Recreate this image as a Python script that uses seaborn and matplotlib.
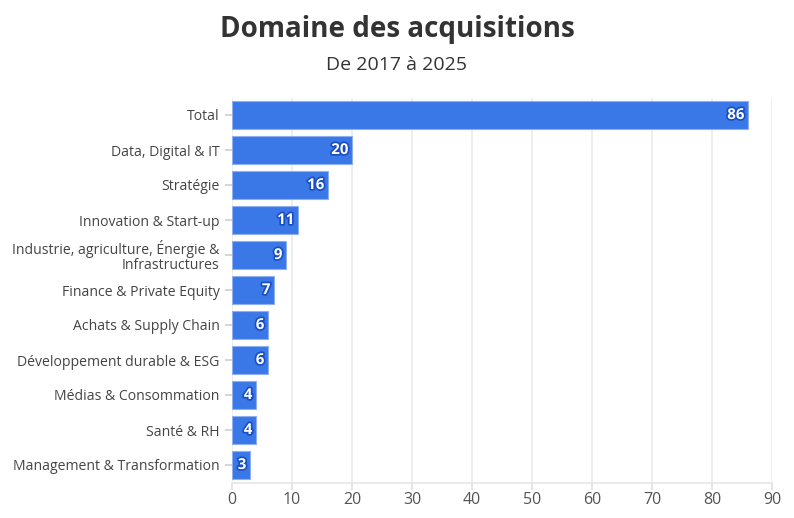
import matplotlib
matplotlib.use("Agg")
import matplotlib.pyplot as plt
import matplotlib.patheffects as pe
import seaborn as sns
import pandas as pd

categories = ["Total", "Data, Digital & IT", "Stratégie", "Innovation & Start-up",
              "Industrie, agriculture, Énergie &\nInfrastructures", "Finance & Private Equity",
              "Achats & Supply Chain", "Développement durable & ESG", "Médias & Consommation",
              "Santé & RH", "Management & Transformation"]
values = [86, 20, 16, 11, 9, 7, 6, 6, 4, 4, 3]
xticks = [0, 10, 20, 30, 40, 50, 60, 70, 80, 90]

df = pd.DataFrame({"cat": categories, "val": values})

sns.set_theme(style="white")
plt.rcParams['font.family'] = ['Open Sans', 'DejaVu Sans']

fig = plt.figure(figsize=(7.94, 5.18), dpi=100)
ax = fig.add_axes([232/794, 1-482.5/518, 540/794, 385/518])

sns.barplot(data=df, x="val", y="cat", color="#3b78e7", saturation=1, width=0.8,
            edgecolor="#8fb0f0", linewidth=0.8, ax=ax, zorder=3)

ax.set_xlim(0, 90)
ax.set_xticks(xticks)
ax.set_xlabel("")
ax.set_ylabel("")
ax.grid(axis="x", color="#ebebeb", linewidth=1.2, zorder=0)
ax.set_axisbelow(True)
for s in ["top", "right", "left"]:
    ax.spines[s].set_visible(False)
ax.spines["bottom"].set_color("#e6e6e6")
ax.spines["bottom"].set_linewidth(1.2)
ax.tick_params(axis="y", length=5, color="#d0d0d0", labelsize=10.1, labelcolor="#444444", pad=4, left=True)
ax.tick_params(axis="x", length=5, color="#e0e0e0", labelsize=11.5, labelcolor="#555555", bottom=True, pad=2)
for lab in ax.get_yticklabels():
    lab.set_linespacing(0.95)

for i, v in enumerate(values):
    ax.text(v - 0.6, i, str(v), ha="right", va="center", color="white", fontsize=10.8,
            fontweight="bold", zorder=5,
            path_effects=[pe.withStroke(linewidth=2.5, foreground="#1a4fc4")])

fig.text(397/794, 1-29/518, "Domaine des acquisitions", ha="center", va="center",
         fontsize=20, fontweight="bold", color="#333333")
fig.text(397/794, 1-65/518, "De 2017 à 2025", ha="center", va="center",
         fontsize=14, color="#333333")

fig.savefig("out.png", dpi=100)
